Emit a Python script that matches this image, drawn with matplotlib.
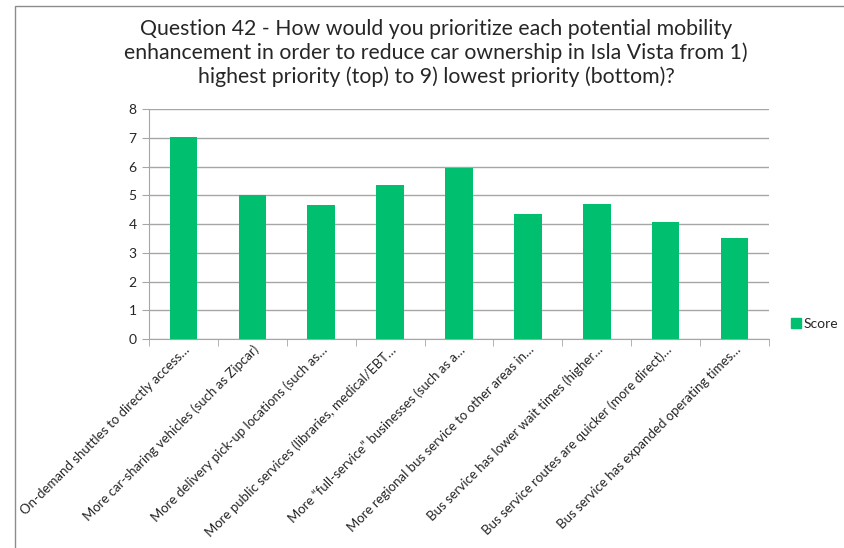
import matplotlib
matplotlib.use("Agg")
import matplotlib.pyplot as plt
from matplotlib.patches import Rectangle
from matplotlib.lines import Line2D

TITLE = ("Question 42 - How would you prioritize each potential mobility\n"
         "enhancement in order to reduce car ownership in Isla Vista from 1)\n"
         "highest priority (top) to 9) lowest priority (bottom)?")

categories = [
    "On-demand shuttles to directly access…",
    "More car-sharing vehicles (such as Zipcar)",
    "More delivery pick-up locations (such as…",
    "More public services (libraries, medical/EBT…",
    "More “full-service” businesses (such as a…",
    "More regional bus service to other areas in…",
    "Bus service has lower wait times (higher…",
    "Bus service routes are quicker (more direct)…",
    "Bus service has expanded operating times…",
]
scores = [7.04, 5.02, 4.66, 5.35, 5.95, 4.34, 4.70, 4.08, 3.52]
yticks = [0, 1, 2, 3, 4, 5, 6, 7, 8]

GREEN = "#00BF6F"
GRID = "#A6A6A6"
TEXT = "#262626"

plt.rcParams["font.family"] = ["Lato", "DejaVu Sans"]

W, H = 845, 548
fig = plt.figure(figsize=(W / 100, H / 100), dpi=100)

# outer chart border (cropped on right and bottom in the source)
fig.patches.append(Rectangle((15 / W, -0.1), 1.2, 1 - 6 / H + 0.1, transform=fig.transFigure,
                             fill=False, edgecolor="#8C8C8C", linewidth=1.0))

fig.text(436 / W, 1 - 53 / H, TITLE, ha="center", va="center", fontsize=15.3,
         color=TEXT, linespacing=1.2)

ax = fig.add_axes([149 / W, 1 - 339 / H, (769 - 149) / W, (339 - 109) / H])
x = list(range(len(categories)))
ax.bar(x, scores, width=0.4, color=GREEN, zorder=3, label="Score")

ax.set_xlim(-0.5, len(categories) - 0.5)
ax.set_ylim(0, 8)
ax.set_yticks(yticks)
ax.yaxis.grid(True, color=GRID, linewidth=1.0, zorder=0)
for s in ["top", "right"]:
    ax.spines[s].set_visible(False)
for s in ["left", "bottom"]:
    ax.spines[s].set_color(GRID)
ax.tick_params(axis="y", length=5, color=GRID, labelsize=10, labelcolor=TEXT, pad=4)

ax.set_xticks(x)
ax.set_xticklabels(categories, rotation=45, ha="right", rotation_mode="anchor",
                   fontsize=9.5, color=TEXT)
ax.tick_params(axis="x", which="major", length=0, pad=3)
ax.set_xticks([i - 0.5 for i in range(len(categories) + 1)], minor=True)
ax.tick_params(axis="x", which="minor", length=5, color=GRID)

handle = Line2D([], [], marker="s", linestyle="none", markersize=7,
                markerfacecolor=GREEN, markeredgecolor=GREEN)
fig.legend([handle], ["Score"], loc="center left", bbox_to_anchor=(790 / W, 1 - 324 / H),
           frameon=False, fontsize=10, handletextpad=0.2, handlelength=0.8,
           borderpad=0, borderaxespad=0, labelcolor=TEXT)

fig.savefig("out.png", dpi=100)
